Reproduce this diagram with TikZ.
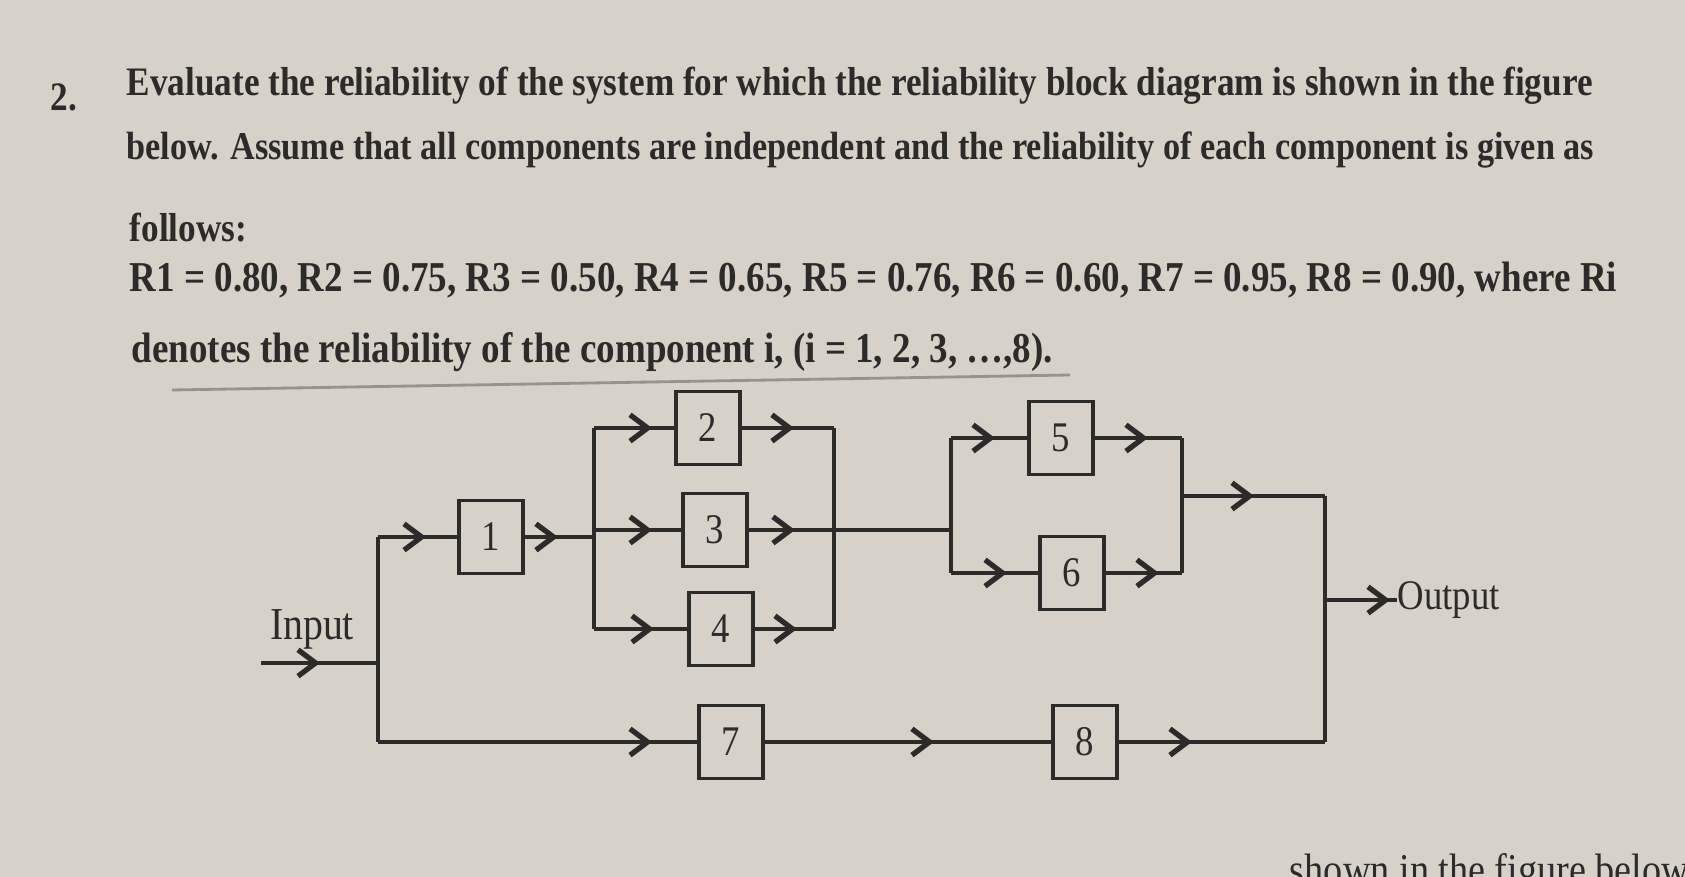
\documentclass[tikz,border=0pt]{standalone}
\usepackage{fontspec}
\setmainfont{Liberation Serif}
\newfontfamily\qfont[FakeStretch=0.87]{Liberation Serif}
\usetikzlibrary{arrows.meta,decorations.markings}
\newlength{\du}
\setlength{\du}{0.01cm}
\definecolor{paper}{RGB}{214,210,202}
\definecolor{ink}{RGB}{45,43,42}
\definecolor{pencil}{RGB}{150,146,140}

\begin{document}
\begin{tikzpicture}[
  blk/.style={draw=ink,line width=1.1pt,minimum width=64\du,minimum height=73\du,inner sep=0pt,text=ink,font=\qfont\fontsize{12}{14}\selectfont},
  wire/.style={draw=ink,line width=1.1pt},
  arr/.style={postaction={decorate},decoration={markings,mark=at position #1 with {\arrow{Straight Barb[length=5pt,width=7.5pt,line width=1.5pt]}}}},
  qline/.style={anchor=west,inner sep=0pt,text=ink,font=\qfont\bfseries\fontsize{#1}{14}\selectfont},
  lbl/.style={inner sep=0pt,text=ink,font=\qfont\fontsize{#1}{14}\selectfont}
]
\pgftransformxscale{1.000000}
\pgftransformyscale{-1.000000}
\fill[paper] (0,0) rectangle (1685\du,877\du);
\useasboundingbox (0,0) rectangle (1685\du,877\du);

% question text
\node[qline=11.5] (q0) at (50\du,97\du) {2.};
\node[qline=11.5] (q1) at (126\du,86\du) {Evaluate the reliability of the system for which the reliability block diagram is shown in the figure};
\node[qline=11.2] (q2) at (126\du,150\du) {below. Assume that all components are independent and the reliability of each component is given as};
\node[qline=11.5] (q3) at (129\du,228\du) {follows:};
\node[qline=12.1] (q4) at (129\du,280\du) {R1 = 0.80, R2 = 0.75, R3 = 0.50, R4 = 0.65, R5 = 0.76, R6 = 0.60, R7 = 0.95, R8 = 0.90, where Ri};
\node[qline=12.1] (q5) at (131\du,352\du) {denotes the reliability of the component i, (i = 1, 2, 3, \ldots,8).};
\draw[pencil,line width=0.8pt] (172\du,390\du) -- (1070\du,375\du);
\node[lbl=12.5,anchor=base east] (tail) at (1690\du,884\du) {shown in the figure below};

% blocks
\node[blk] (b1) at (491\du,537\du) {1};
\node[blk] (b2) at (708\du,428\du) {2};
\node[blk] (b3) at (715\du,530\du) {3};
\node[blk] (b4) at (721\du,629\du) {4};
\node[blk] (b5) at (1061\du,438\du) {5};
\node[blk] (b6) at (1072\du,573\du) {6};
\node[blk] (b7) at (731\du,742\du) {7};
\node[blk] (b8) at (1085\du,742\du) {8};
\node[lbl=13] (inp) at (312\du,629\du) {Input};
\node[lbl=12,anchor=west] (outp) at (1397\du,600\du) {Output};

\coordinate (src) at (261\du,663\du);
\coordinate (jA) at (378\du,663\du);
\coordinate (jB) at (594\du,530\du);
\coordinate (jC) at (834\du,530\du);
\coordinate (jD) at (951\du,530\du);
\coordinate (jE) at (1182\du,496\du);
\coordinate (jF) at (1325\du,496\du);

% wires
\draw[wire,arr=59\du] (src) -- (jA);
\draw[wire] (jA |- b1) -- (jA |- b7);
\draw[wire,arr=48\du] (jA |- b1) -- (b1);
\draw[wire,arr=33\du] (b1) -- (jB |- b1);
\draw[wire] (jB |- b2) -- (jB |- b4);
\draw[wire,arr=58\du] (jB |- b2) -- (b2);
\draw[wire,arr=58\du] (jB) -- (b3);
\draw[wire,arr=60\du] (jB |- b4) -- (b4);
\draw[wire] (jC |- b2) -- (jC |- b4);
\draw[wire,arr=52\du] (b2) -- (jC |- b2);
\draw[wire,arr=46\du] (b3) -- (jC);
\draw[wire,arr=42\du] (b4) -- (jC |- b4);
\draw[wire] (jC) -- (jD);
\draw[wire] (jD |- b5) -- (jD |- b6);
\draw[wire,arr=44\du] (jD |- b5) -- (b5);
\draw[wire,arr=56\du] (jD |- b6) -- (b6);
\draw[wire] (jE |- b5) -- (jE |- b6);
\draw[wire,arr=53\du] (b5) -- (jE |- b5);
\draw[wire,arr=53\du] (b6) -- (jE |- b6);
\draw[wire,arr=72\du] (jE) -- (jF);
\draw[wire] (jF) -- (jF |- b8);
\draw[wire,arr=274\du] (jA |- b7) -- (b7);
\draw[wire,arr=169\du] (b7) -- (b8);
\draw[wire,arr=73\du] (b8) -- (jF |- b8);
\draw[wire,arr=65\du] (jF |- outp) -- (outp);
\end{tikzpicture}
\end{document}
